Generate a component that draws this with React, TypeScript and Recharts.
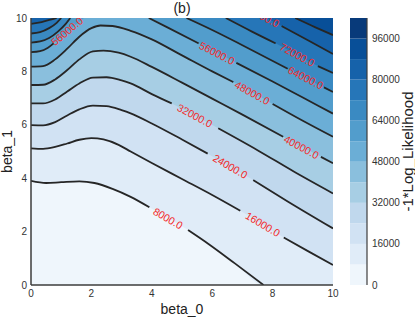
import React from 'react'
import {
  Area,
  Bar,
  BarChart,
  CartesianGrid,
  ComposedChart,
  Line,
  Scatter,
  XAxis,
  YAxis,
} from 'recharts'

const FONT = '"Liberation Sans", Arial, sans-serif'

// contour levels of -1*Log_Likelihood and the colour of each band above a level
const levels = [0, 8000, 16000, 24000, 32000, 40000, 48000, 56000, 64000, 72000, 80000, 88000, 96000, 104000]
const bandColors = [
  '#eff6fc', '#e0ecf8', '#d1e2f3', '#c0d8ed', '#a7cee4', '#8abfdd', '#6baed6',
  '#529dcc', '#3a8ac2', '#2676b8', '#1662aa', '#084f98', '#083a7a',
]
const axisTicks = [0, 2, 4, 6, 8, 10]
const colorbarTicks = [0, 16000, 32000, 48000, 64000, 80000, 96000]

type Pt = [number, number] | null

// contour lines as [beta_0, beta_1]; null = gap under a label
const c8000: Pt[] = [[0, 3.9], [0.5, 3.82], [1.0, 3.85], [1.6, 3.88], [2.1, 3.82], [2.7, 3.6], [3.3, 3.3], [3.92, 2.91], null, [5.2, 2.06], [5.9, 1.52], [6.75, 0.81], [7.7, 0], null, [10, 0]]
const c16000: Pt[] = [[0, 5.12], [0.4, 5.1], [0.8, 5.17], [1.2, 5.3], [1.6, 5.44], [2.0, 5.5], [2.4, 5.45], [2.9, 5.25], [3.3, 5.0], [4, 4.57], [5, 3.97], [6, 3.37], [6.93, 2.78], null, [8.37, 1.78], [9.2, 1.25], [10, 0.75]]
const c24000: Pt[] = [[0, 5.99], [0.4, 5.98], [0.8, 6.1], [1.2, 6.35], [1.6, 6.58], [2.05, 6.72], [2.5, 6.7], [3.0, 6.55], [3.3, 6.43], [4, 6.05], [5, 5.45], [5.85, 4.92], null, [7.36, 3.93], [8.5, 3.13], [10, 2.12]]
const c32000: Pt[] = [[0, 6.8], [0.4, 6.8], [0.8, 6.95], [1.2, 7.25], [1.6, 7.55], [2.05, 7.77], [2.5, 7.78], [3.0, 7.66], [3.3, 7.55], [4.0, 7.15], [4.66, 6.8], null, [6.2, 5.87], [7.5, 5.05], [8.7, 4.25], [10, 3.43]]
const c40000: Pt[] = [[0, 7.49], [0.4, 7.5], [0.8, 7.7], [1.2, 8.05], [1.6, 8.45], [2.05, 8.75], [2.4, 8.78], [2.9, 8.7], [3.3, 8.55], [4, 8.17], [5, 7.58], [6, 6.98], [7, 6.38], [8.35, 5.55], null, [9.6, 4.8], [10, 4.56]]
const c48000: Pt[] = [[0, 8.18], [0.4, 8.2], [0.8, 8.45], [1.2, 8.85], [1.6, 9.3], [2.0, 9.62], [2.3, 9.72], [2.7, 9.7], [3.3, 9.52], [4, 9.2], [5, 8.6], [6, 8.0], [6.7, 7.6], null, [8.0, 6.78], [9, 6.15], [10, 5.55]]
const c56000left: Pt[] = [[0, 8.72], [0.3, 8.76], [0.55, 8.88], [0.75, 9.05], null, [1.75, 10]]
const c56000right: Pt[] = [[3.9, 10], [4.5, 9.66], [5.55, 9.05], null, [6.8, 8.32], [8, 7.62], [9, 7.02], [10, 6.42]]
const c64000left: Pt[] = [[0, 9.08], [0.3, 9.12], [0.6, 9.25], [0.9, 9.5], [1.15, 9.78], [1.3, 10]]
const c64000right: Pt[] = [[5.15, 10], [6, 9.55], [7, 8.98], [8.5, 8.1], null, [9.7, 7.4], [10, 7.23]]
const c72000left: Pt[] = [[0, 9.42], [0.3, 9.47], [0.6, 9.62], [0.85, 9.82], [1.0, 10]]
const c72000right: Pt[] = [[6.45, 10], [7.3, 9.5], [8.1, 9.05], null, [9.5, 8.2], [10, 7.94]]
const c80000left: Pt[] = [[0, 9.78], [0.35, 9.85], [0.65, 9.94], [0.85, 10]]
const c80000right: Pt[] = [[7.8, 10], null, [8.3, 9.7], [9.2, 9.15], [10, 8.65]]
const c88000right: Pt[] = [[8.75, 10], [9.4, 9.66], [10, 9.36]]

const contours: { level: number; pts: Pt[] }[] = [
  { level: 8000, pts: c8000 },
  { level: 16000, pts: c16000 },
  { level: 24000, pts: c24000 },
  { level: 32000, pts: c32000 },
  { level: 40000, pts: c40000 },
  { level: 48000, pts: c48000 },
  { level: 56000, pts: c56000left },
  { level: 56000, pts: c56000right },
  { level: 64000, pts: c64000left },
  { level: 64000, pts: c64000right },
  { level: 72000, pts: c72000left },
  { level: 72000, pts: c72000right },
  { level: 80000, pts: c80000left },
  { level: 80000, pts: c80000right },
  { level: 88000, pts: c88000right },
]

// inline contour labels
const contourLabels = [
  { x: 4.54, y: 2.5, text: '8000.0', angle: 30 },
  { x: 7.68, y: 2.28, text: '16000.0', angle: 31 },
  { x: 6.6, y: 4.45, text: '24000.0', angle: 30 },
  { x: 5.43, y: 6.35, text: '32000.0', angle: 28 },
  { x: 8.96, y: 5.17, text: '40000.0', angle: 28 },
  { x: 7.33, y: 7.2, text: '48000.0', angle: 29 },
  { x: 6.16, y: 8.69, text: '56000.0', angle: 27 },
  { x: 9.1, y: 7.77, text: '64000.0', angle: 27 },
  { x: 8.82, y: 8.63, text: '72000.0', angle: 28 },
  { x: 7.65, y: 10.1, text: '80000.0', angle: 28 },
  { x: 1.19, y: 9.51, text: '56000.0', angle: -40 },
]

const toArea = (pts: Pt[]) =>
  pts.filter((p): p is [number, number] => p !== null).map(([x, y]) => ({ x, y }))

const toLine = (pts: Pt[]) =>
  pts.map((p, i) => {
    if (p) return { x: p[0], y: p[1] }
    const prev = pts[i - 1] as [number, number]
    return { x: prev[0], y: null }
  })

const colorbarRow: Record<string, number | string> = { name: 'cb' }
levels.slice(1).forEach((lv, i) => {
  colorbarRow['b' + i] = lv - levels[i]
})

const frame = { stroke: '#3d3d3d', strokeWidth: 1.5 }
const tickStyle = { fontSize: 10, fill: '#333', fontFamily: FONT }

function ContourLabel(props: any) {
  const { cx, cy, payload } = props
  return (
    <text
      x={cx}
      y={cy}
      transform={`rotate(${payload.angle} ${cx} ${cy})`}
      textAnchor="middle"
      dominantBaseline="central"
      fontSize={10.5}
      fontFamily={FONT}
      fill="#f22a2a"
    >
      {payload.text}
    </text>
  )
}

// x label below the plot and the "(b)" title above it
function XLabel({ viewBox }: any) {
  const cx = viewBox.x + viewBox.width / 2
  return (
    <g>
      <text x={cx} y={viewBox.y + viewBox.height - 5} textAnchor="middle" fontSize={14} fontFamily={FONT} fill="#222">
        beta_0
      </text>
      <text x={cx} y={13} textAnchor="middle" fontSize={14} fontFamily={FONT} fill="#222">
        (b)
      </text>
    </g>
  )
}

function YLabel({ viewBox }: any) {
  const cy = viewBox.y + viewBox.height / 2
  return (
    <text x={11.5} y={cy} transform={`rotate(-90 11.5 ${cy})`} textAnchor="middle" fontSize={14} fontFamily={FONT} fill="#222">
      beta_1
    </text>
  )
}

function BarLabel({ viewBox }: any) {
  const x = viewBox.x + viewBox.width - 2
  const cy = viewBox.y + viewBox.height / 2
  return (
    <text x={x} y={cy} transform={`rotate(-90 ${x} ${cy})`} textAnchor="middle" fontSize={15} fontFamily={FONT} fill="#222">
      -1*Log_Likelihood
    </text>
  )
}

export default function App() {
  return (
    <div style={{ position: 'fixed', left: 0, top: 0, width: 415, height: 319, background: '#fff' }}>
      <div style={{ position: 'absolute', left: 0, top: 0 }}>
        <ComposedChart width={345} height={319} margin={{ top: 18, right: 12, bottom: 0, left: 0 }}>
          <CartesianGrid horizontal={false} vertical={false} fill={bandColors[0]} />
          <XAxis
            dataKey="x"
            type="number"
            domain={[0, 10]}
            ticks={axisTicks}
            interval={0}
            allowDataOverflow
            height={34}
            tickSize={0}
            tickMargin={5}
            tick={tickStyle}
            axisLine={frame}
            label={<XLabel />}
          />
          <XAxis
            xAxisId="top"
            orientation="top"
            type="number"
            domain={[0, 10]}
            height={0}
            tick={false}
            tickSize={0}
            axisLine={frame}
          />
          <YAxis
            type="number"
            domain={[0, 10]}
            ticks={axisTicks}
            interval={0}
            allowDataOverflow
            width={31}
            tickSize={0}
            tickMargin={4}
            tick={tickStyle}
            axisLine={frame}
            label={<YLabel />}
          />
          <YAxis
            yAxisId="right"
            orientation="right"
            type="number"
            domain={[0, 10]}
            width={0}
            tick={false}
            tickSize={0}
            axisLine={frame}
          />
          {contours.map((c, i) => (
            <Area
              key={'a' + i}
              data={toArea(c.pts)}
              dataKey="y"
              type="monotone"
              baseValue={10}
              fill={bandColors[c.level / 8000]}
              fillOpacity={1}
              stroke="none"
              isAnimationActive={false}
            />
          ))}
          {contours.map((c, i) => (
            <Line
              key={'l' + i}
              data={toLine(c.pts)}
              dataKey="y"
              type="monotone"
              stroke="#262626"
              strokeWidth={1.8}
              dot={false}
              activeDot={false}
              isAnimationActive={false}
            />
          ))}
          <Scatter data={contourLabels} dataKey="y" shape={ContourLabel} isAnimationActive={false} />
        </ComposedChart>
      </div>
      <div style={{ position: 'absolute', left: 345, top: 0 }}>
        <BarChart
          width={70}
          height={319}
          data={[colorbarRow]}
          margin={{ top: 18, right: 0, bottom: 34, left: 5 }}
          barCategoryGap={0}
        >
          <XAxis dataKey="name" height={0} tick={false} tickSize={0} axisLine={{ stroke: '#3d3d3d', strokeWidth: 1.2 }} />
          <XAxis xAxisId="t" orientation="top" dataKey="name" height={0} tick={false} tickSize={0} axisLine={{ stroke: '#3d3d3d', strokeWidth: 1.2 }} />
          <YAxis
            orientation="right"
            type="number"
            domain={[0, 104000]}
            ticks={colorbarTicks}
            interval={0}
            width={48}
            tickSize={0}
            tickMargin={5}
            tick={tickStyle}
            axisLine={{ stroke: '#3d3d3d', strokeWidth: 1.2 }}
            label={<BarLabel />}
          />
          <YAxis yAxisId="l" orientation="left" type="number" domain={[0, 104000]} width={0} tick={false} tickSize={0} axisLine={{ stroke: '#3d3d3d', strokeWidth: 1.2 }} />
          {bandColors.map((col, i) => (
            <Bar key={i} dataKey={'b' + i} stackId="cb" fill={col} isAnimationActive={false} />
          ))}
        </BarChart>
      </div>
    </div>
  )
}
